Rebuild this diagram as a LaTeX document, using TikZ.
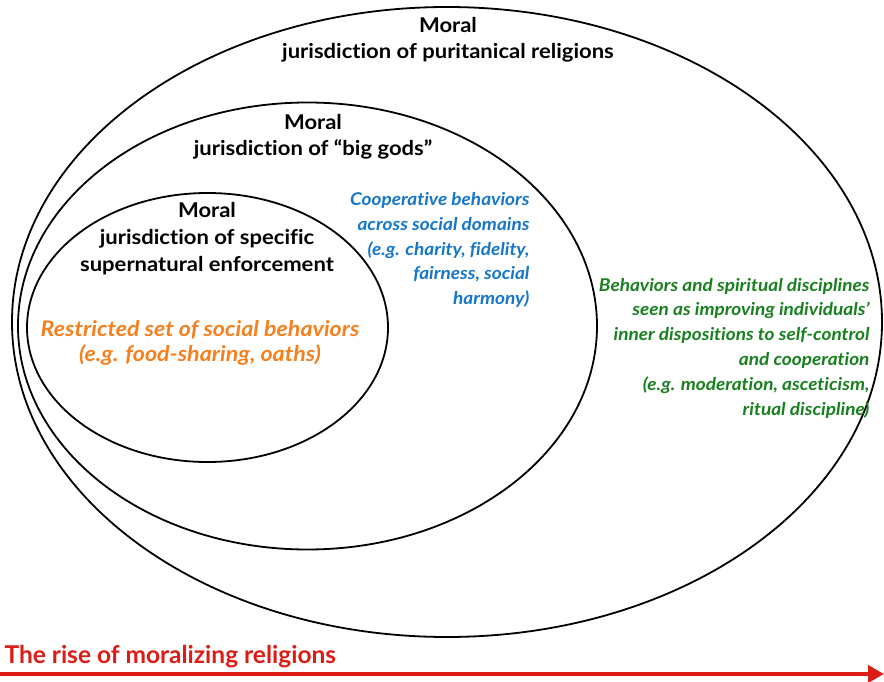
\documentclass[tikz,border=0pt]{standalone}
\usepackage{fontspec}
\setmainfont{Lato}[Ligatures=NoCommon]
\newfontfamily\widefont{Lato}[Ligatures=NoCommon, FakeStretch=1.08]
\usepackage{tikz}
\usetikzlibrary{shapes.geometric, arrows.meta}

\definecolor{riseRed}{RGB}{222,28,22}
\definecolor{noteOrange}{RGB}{246,128,30}
\definecolor{noteBlue}{RGB}{22,118,200}
\definecolor{noteGreen}{RGB}{24,128,30}

\begin{document}
\begin{tikzpicture}[
        x=1pt, y=-1pt,
        zone/.style={draw, ellipse, line width=1.8pt, inner sep=0pt},
        heading/.style={font=\widefont\bfseries\fontsize{20.4}{25.5}\selectfont, align=center},
        note/.style={font=\widefont\bfseries\itshape\fontsize{17.6}{24.8}\selectfont}
        ]
    \useasboundingbox (0,0) rectangle (884,682);

    % Define jurisdiction ellipses
    \node[zone, minimum width=870pt, minimum height=630pt] (puritan) at (447,322) {};
    \node[zone, minimum width=579pt, minimum height=447pt] (biggods) at (307.5,326) {};
    \node[zone, minimum width=361pt, minimum height=269pt] (specific) at (207.5,327.5) {};

    % Define headings
    \node[heading] (puritanT) at (448,40) {Moral\\jurisdiction of puritanical religions};
    \node[heading] (biggodsT) at (313,137) {Moral\\jurisdiction of “big gods”};
    \node[heading, font=\widefont\bfseries\fontsize{20.4}{27}\selectfont] (specificT) at (207,239)
        {Moral\\jurisdiction of specific\\supernatural enforcement};

    % Define behavior notes
    \node[note, text=noteOrange, align=center, font=\widefont\bfseries\itshape\fontsize{21.5}{25}\selectfont] (restricted) at (200,343)
        {Restricted set of social behaviors\\(e.g. food-sharing, oaths)};
    \node[note, text=noteBlue, align=right, anchor=east] (cooperative) at (533,250)
        {Cooperative behaviors\\across social domains\\(e.g. charity, fidelity,\\fairness, social\\harmony)};
    \node[note, text=noteGreen, align=right, anchor=east] (disciplines) at (873,348)
        {Behaviors and spiritual disciplines\\seen as improving individuals’\\inner dispositions to self-control\\and cooperation\\(e.g. moderation, asceticism,\\ritual discipline)};

    % Draw the rise arrow
    \node[anchor=west, text=riseRed, font=\bfseries\fontsize{24.5}{27}\selectfont] (rise) at (1,657)
        {The rise of moralizing religions};
    \coordinate (riseStart) at (0,674);
    \coordinate (riseEnd) at (884,674);
    \draw[riseRed, line width=4.5pt, -{Triangle[length=16pt, width=17pt]}] (riseStart) -- (riseEnd);

\end{tikzpicture}
\end{document}
